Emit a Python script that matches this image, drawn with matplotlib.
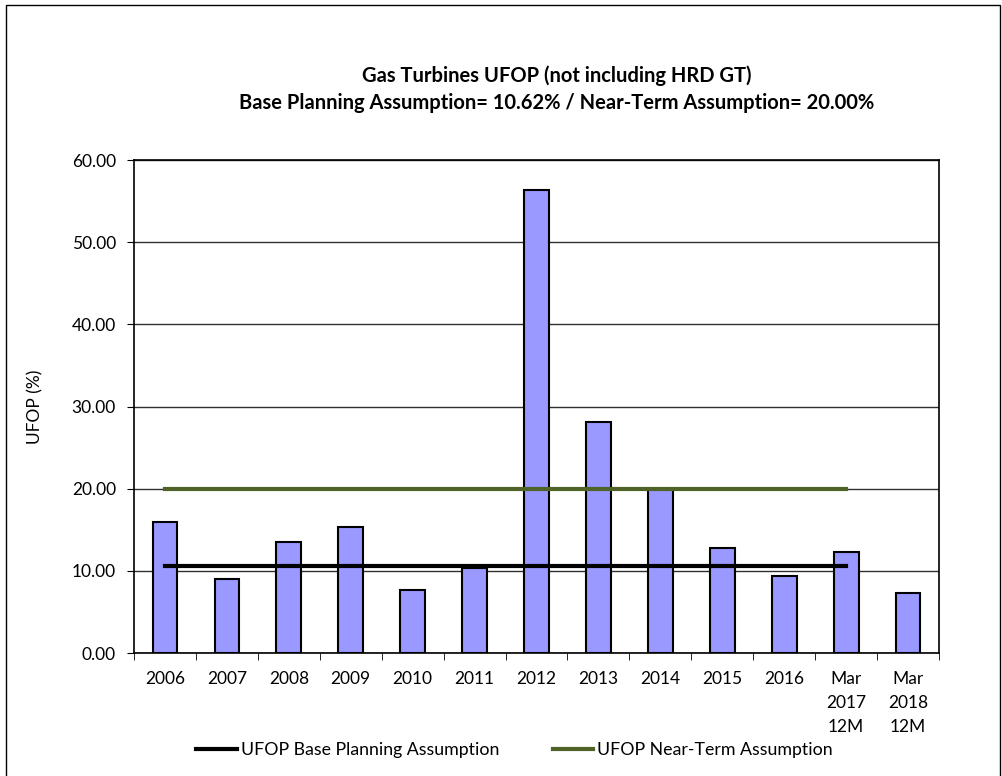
import matplotlib
matplotlib.use('Agg')
import matplotlib.pyplot as plt
import numpy as np
from matplotlib.patches import Rectangle

plt.rcParams['font.family'] = ['Lato', 'DejaVu Sans']

# data
categories = ['2006', '2007', '2008', '2009', '2010', '2011', '2012', '2013',
              '2014', '2015', '2016', 'Mar\n2017\n12M', 'Mar\n2018\n12M']
ufop = [15.9, 9.0, 13.5, 15.3, 7.7, 10.3, 56.3, 28.1, 19.95, 12.8, 9.4, 12.3, 7.3]
base_planning = 10.62
near_term = 20.00
n_line = 12  # assumption lines run from 2006 to Mar 2017

fig = plt.figure(figsize=(10.03, 7.76), dpi=100)
ax = fig.add_axes([0.1336, 0.1585, 0.8026, 0.6353])

ind = np.arange(len(categories))
ax.bar(ind, ufop, 0.4, color='#9999FF', edgecolor='black', linewidth=1.5, zorder=2)

xl = ind[:n_line]
ax.plot(xl, [base_planning] * n_line, color='black', linewidth=3,
        label='UFOP Base Planning Assumption', zorder=3)
ax.plot(xl, [near_term] * n_line, color='#4F6228', linewidth=3,
        label='UFOP Near-Term Assumption', zorder=3)

ax.set_xlim(-0.5, len(categories) - 0.5)
ax.set_ylim(0, 60)
ax.set_yticks(np.arange(0, 61, 10))
ax.set_yticklabels(['%.2f' % v for v in np.arange(0, 61, 10)], fontsize=12.5)
ax.yaxis.grid(True, color='#303030', linewidth=1, zorder=0)
ax.set_axisbelow(True)

ax.set_xticks(ind)
ax.set_xticklabels(categories, fontsize=12.5, linespacing=1.62, va='top')
ax.tick_params(axis='x', which='major', length=0, pad=13)
ax.set_xticks(np.arange(-0.5, len(categories), 1), minor=True)
ax.tick_params(axis='x', which='minor', length=5, direction='out')
ax.tick_params(axis='y', length=5, direction='out', pad=8)

for s in ax.spines.values():
    s.set_linewidth(1.2)

ax.set_ylabel('UFOP (%)', fontsize=12.5, labelpad=20)

fig.text(0.555, 0.902, 'Gas Turbines UFOP (not including HRD GT)', ha='center',
         va='center', fontsize=14.5, fontweight='bold')
fig.text(0.555, 0.867, 'Base Planning Assumption= 10.62% / Near-Term Assumption= 20.00%',
         ha='center', va='center', fontsize=14.5, fontweight='bold')

fig.legend(loc='center', bbox_to_anchor=(0.513, 0.033), ncol=2, frameon=False,
           fontsize=12.8, handlelength=2.3, handletextpad=0.2, columnspacing=3.0)

fig.patches.append(Rectangle((0.006, -0.01), 0.991, 1.003, transform=fig.transFigure,
                             fill=False, edgecolor='black', linewidth=1))

fig.savefig('out.png', dpi=100)
